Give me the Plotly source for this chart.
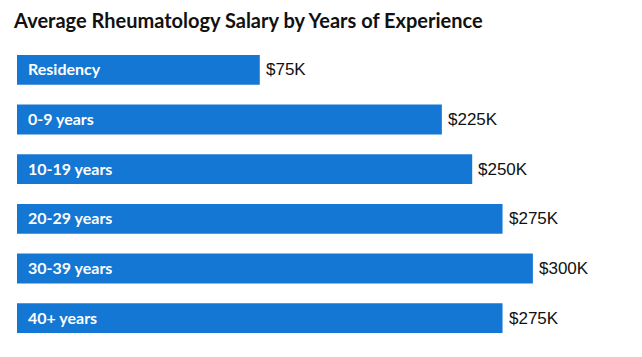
import plotly.graph_objects as go

categories = ["Residency", "0-9 years", "10-19 years", "20-29 years", "30-39 years", "40+ years"]
salaries_k = [75, 225, 250, 275, 300, 275]
value_labels = ["$75K", "$225K", "$250K", "$275K", "$300K", "$275K"]
title_text = "Average Rheumatology Salary by Years of Experience"

AXIS_MIN = -125
AXIS_MAX = 380
BAR_COLOR = "#1477d3"

fig = go.Figure()
fig.add_trace(go.Bar(
    y=categories,
    x=[v - AXIS_MIN for v in salaries_k],
    base=AXIS_MIN,
    orientation="h",
    marker=dict(color=BAR_COLOR, line=dict(width=0)),
    width=0.6,
    hoverinfo="skip",
))

for cat, val, lab in zip(categories, salaries_k, value_labels):
    fig.add_annotation(x=AXIS_MIN, y=cat, text="<b>" + cat + "</b>", showarrow=False,
                       xanchor="left", yanchor="middle", xshift=9, yshift=1,
                       font=dict(family="Lato, sans-serif", size=16, color="white"))
    fig.add_annotation(x=val, y=cat, text=lab, showarrow=False,
                       xanchor="left", yanchor="middle", xshift=4,
                       font=dict(family="Liberation Sans, Arial, sans-serif", size=17, color="#111111"))

fig.update_layout(
    width=642, height=357,
    margin=dict(l=17, r=12, t=45, b=14),
    paper_bgcolor="white", plot_bgcolor="white",
    showlegend=False,
    title=dict(text="<b>" + title_text + "</b>", x=0.022, xanchor="left", y=0.94, yanchor="middle",
               font=dict(family="Lato, sans-serif", size=20, color="#111111")),
    xaxis=dict(range=[AXIS_MIN, AXIS_MAX], visible=False, fixedrange=True),
    yaxis=dict(autorange="reversed", visible=False, fixedrange=True),
    bargap=0.4,
)

fig.write_html("out.html", config={"displayModeBar": False},
               post_script="document.body.style.margin='0';")
